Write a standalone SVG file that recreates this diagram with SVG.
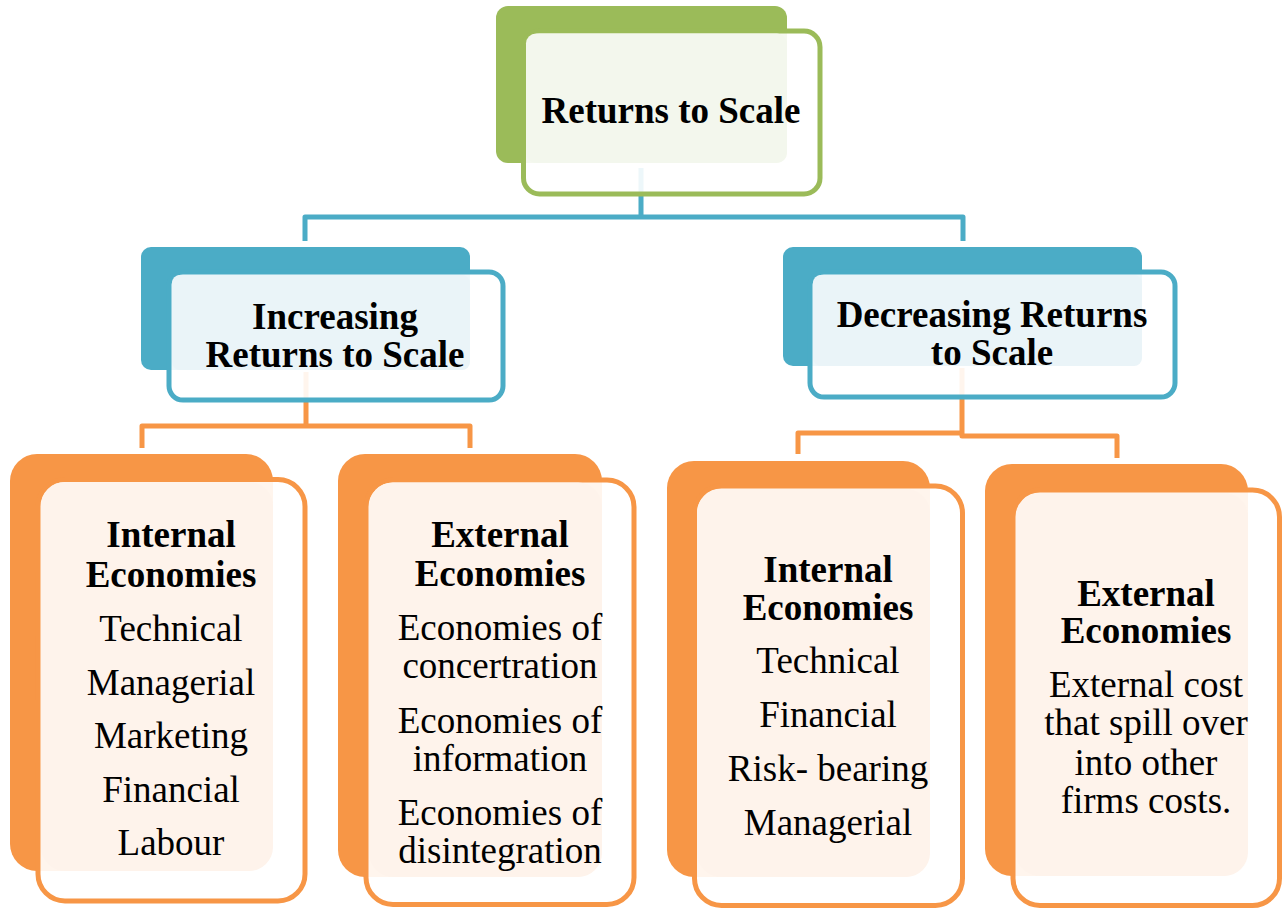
<svg xmlns="http://www.w3.org/2000/svg" width="1282" height="909" viewBox="0 0 1282 909">
<style>
.t{font-family:"Liberation Serif","Times New Roman",serif;font-size:37px;fill:#000;text-anchor:middle}
.b{font-weight:bold}
.front{fill:#fff;fill-opacity:0.9;stroke-width:5}
.g .back{fill:#9bbb59}.g .front{stroke:#9bbb59}.g .light{fill:#f3f7ed}
.bl .back{fill:#4bacc6}.bl .front{stroke:#4bacc6}.bl .light{fill:#eaf4f8}
.o .back{fill:#f79646}.o .front{stroke:#f79646}.o .light{fill:#fef3eb}
.con{fill:none;stroke-width:5;stroke-linejoin:round}
</style>
<g id="connectors">
<path class="con" stroke="#4bacc6" d="M305,241 V217 H963 V241 M641,168 V217"/>
<path class="con" stroke="#f79646" d="M306,372 V426 M142,448 V426 H470 V448"/>
<path class="con" stroke="#f79646" d="M962,368 V433 H798 V454 M962,433 V436 H1117 V458"/>
</g>
<g id="root" class="g">
<rect class="back" x="496" y="6" width="291" height="157" rx="12"/>
<rect class="front" x="523.5" y="31" width="296.5" height="163" rx="16"/>
<rect class="light" x="526" y="33.5" width="261" height="129.5" rx="10"/>
<text class="t b" x="671" y="123">Returns to Scale</text>
</g>
<g id="increasing" class="bl">
<rect class="back" x="141" y="247" width="329" height="123" rx="10"/>
<rect class="front" x="169" y="272" width="334" height="128" rx="14"/>
<rect class="light" x="172" y="275" width="298" height="95" rx="8"/>
<text class="t b" x="335" y="329">Increasing</text>
<text class="t b" x="335" y="367">Returns to Scale</text>
</g>
<g id="decreasing" class="bl">
<rect class="back" x="783" y="247" width="359" height="119" rx="10"/>
<rect class="front" x="810" y="272" width="365" height="125" rx="14"/>
<rect class="light" x="813" y="275" width="329" height="91" rx="8"/>
<text class="t b" x="992" y="327">Decreasing Returns</text>
<text class="t b" x="992" y="365">to Scale</text>
</g>
<g id="inc-internal" class="o">
<rect class="back" x="10" y="454" width="263" height="417" rx="27"/>
<rect class="front" x="38" y="479.5" width="267" height="421.5" rx="27"/>
<rect class="light" x="41" y="482" width="232" height="389" rx="24"/>
<text class="t b" x="171" y="547">Internal</text>
<text class="t b" x="171" y="587">Economies</text>
<text class="t" x="171" y="641">Technical</text>
<text class="t" x="171" y="694.5">Managerial</text>
<text class="t" x="171" y="748">Marketing</text>
<text class="t" x="171" y="801.5">Financial</text>
<text class="t" x="171" y="855">Labour</text>
</g>
<g id="inc-external" class="o">
<rect class="back" x="338" y="454" width="264" height="423" rx="27"/>
<rect class="front" x="366" y="480" width="268" height="424.5" rx="27"/>
<rect class="light" x="369" y="482.5" width="233" height="394.5" rx="24"/>
<text class="t b" x="500" y="547">External</text>
<text class="t b" x="500" y="586">Economies</text>
<text class="t" x="500" y="640">Economies of</text>
<text class="t" x="500" y="678">concertration</text>
<text class="t" x="500" y="733">Economies of</text>
<text class="t" x="500" y="771">information</text>
<text class="t" x="500" y="825">Economies of</text>
<text class="t" x="500" y="863">disintegration</text>
</g>
<g id="dec-internal" class="o">
<rect class="back" x="667" y="461" width="263" height="416" rx="27"/>
<rect class="front" x="694.5" y="486" width="268" height="419.5" rx="27"/>
<rect class="light" x="697" y="489" width="233" height="388" rx="24"/>
<text class="t b" x="828" y="582">Internal</text>
<text class="t b" x="828" y="620">Economies</text>
<text class="t" x="828" y="673">Technical</text>
<text class="t" x="828" y="727">Financial</text>
<text class="t" x="828" y="781">Risk- bearing</text>
<text class="t" x="828" y="835">Managerial</text>
</g>
<g id="dec-external" class="o">
<rect class="back" x="985" y="464" width="263" height="412" rx="27"/>
<rect class="front" x="1013" y="490" width="266.5" height="415.5" rx="27"/>
<rect class="light" x="1016" y="493" width="232" height="383" rx="24"/>
<text class="t b" x="1146" y="606">External</text>
<text class="t b" x="1146" y="643">Economies</text>
<text class="t" x="1146" y="697">External cost</text>
<text class="t" x="1146" y="735">that spill over</text>
<text class="t" x="1146" y="775">into other</text>
<text class="t" x="1146" y="813">firms costs.</text>
</g>
</svg>
